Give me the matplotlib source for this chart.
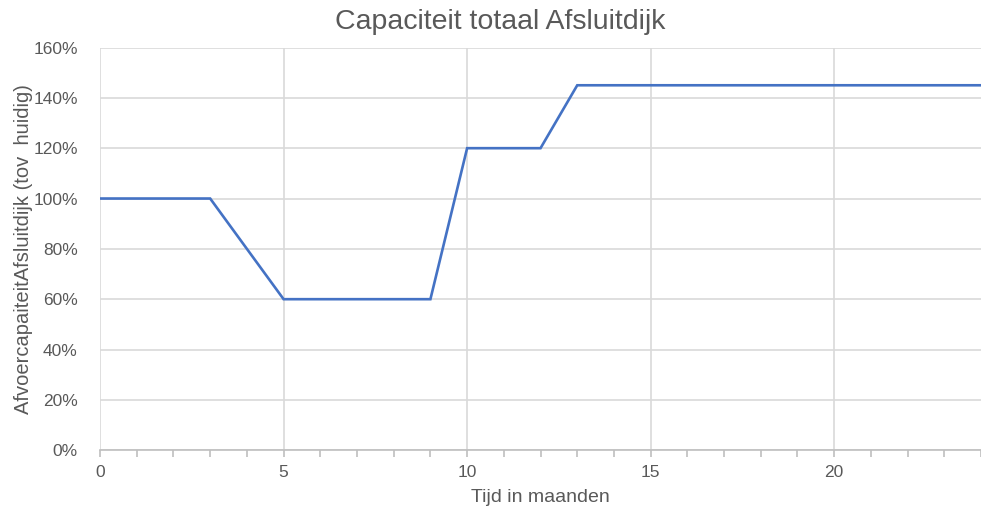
import matplotlib.pyplot as plt
from matplotlib.ticker import MultipleLocator, PercentFormatter

# capaciteit per maand (% van huidig)
maanden = [0, 3, 5, 9, 10, 12, 13, 24]
capaciteit = [100, 100, 60, 60, 120, 120, 145, 145]

plt.rcParams['font.family'] = ['Liberation Sans', 'DejaVu Sans']
grijs = '#595959'

fig = plt.figure(figsize=(9.81, 5.11), dpi=100)
ax = fig.add_axes([0.102, 0.119, 0.898, 0.788])

ax.plot(maanden, capaciteit, color='#4472C4', linewidth=1.9, solid_joinstyle='miter')

ax.set_xlim(0, 24)
ax.set_ylim(0, 160)
ax.xaxis.set_major_locator(MultipleLocator(5))
ax.xaxis.set_minor_locator(MultipleLocator(1))
ax.yaxis.set_major_locator(MultipleLocator(20))
ax.yaxis.set_major_formatter(PercentFormatter(decimals=0))

ax.grid(True, which='major', color='#D9D9D9', linewidth=1.2)
ax.set_axisbelow(True)
for s in ['top', 'right', 'left']:
    ax.spines[s].set_visible(False)
ax.spines['bottom'].set_color('#BFBFBF')
ax.spines['bottom'].set_linewidth(1.2)

ax.tick_params(axis='x', which='both', direction='out', color='#BFBFBF', labelsize=12.5, labelcolor=grijs)
ax.tick_params(axis='x', which='major', length=5, width=1.2, pad=6)
ax.tick_params(axis='x', which='minor', length=5, width=1.2)
ax.tick_params(axis='y', length=0, labelsize=12.5, labelcolor=grijs, pad=16)

fig.suptitle('Capaciteit totaal Afsluitdijk', fontsize=20.5, color=grijs, x=0.51, y=0.983)
ax.set_xlabel('Tijd in maanden', fontsize=14, color=grijs, labelpad=6)
ax.set_ylabel('AfvoercapaiteitAfsluitdijk (tov  huidig)', fontsize=14.5, color=grijs, labelpad=0)

fig.savefig('out.png', dpi=100)
